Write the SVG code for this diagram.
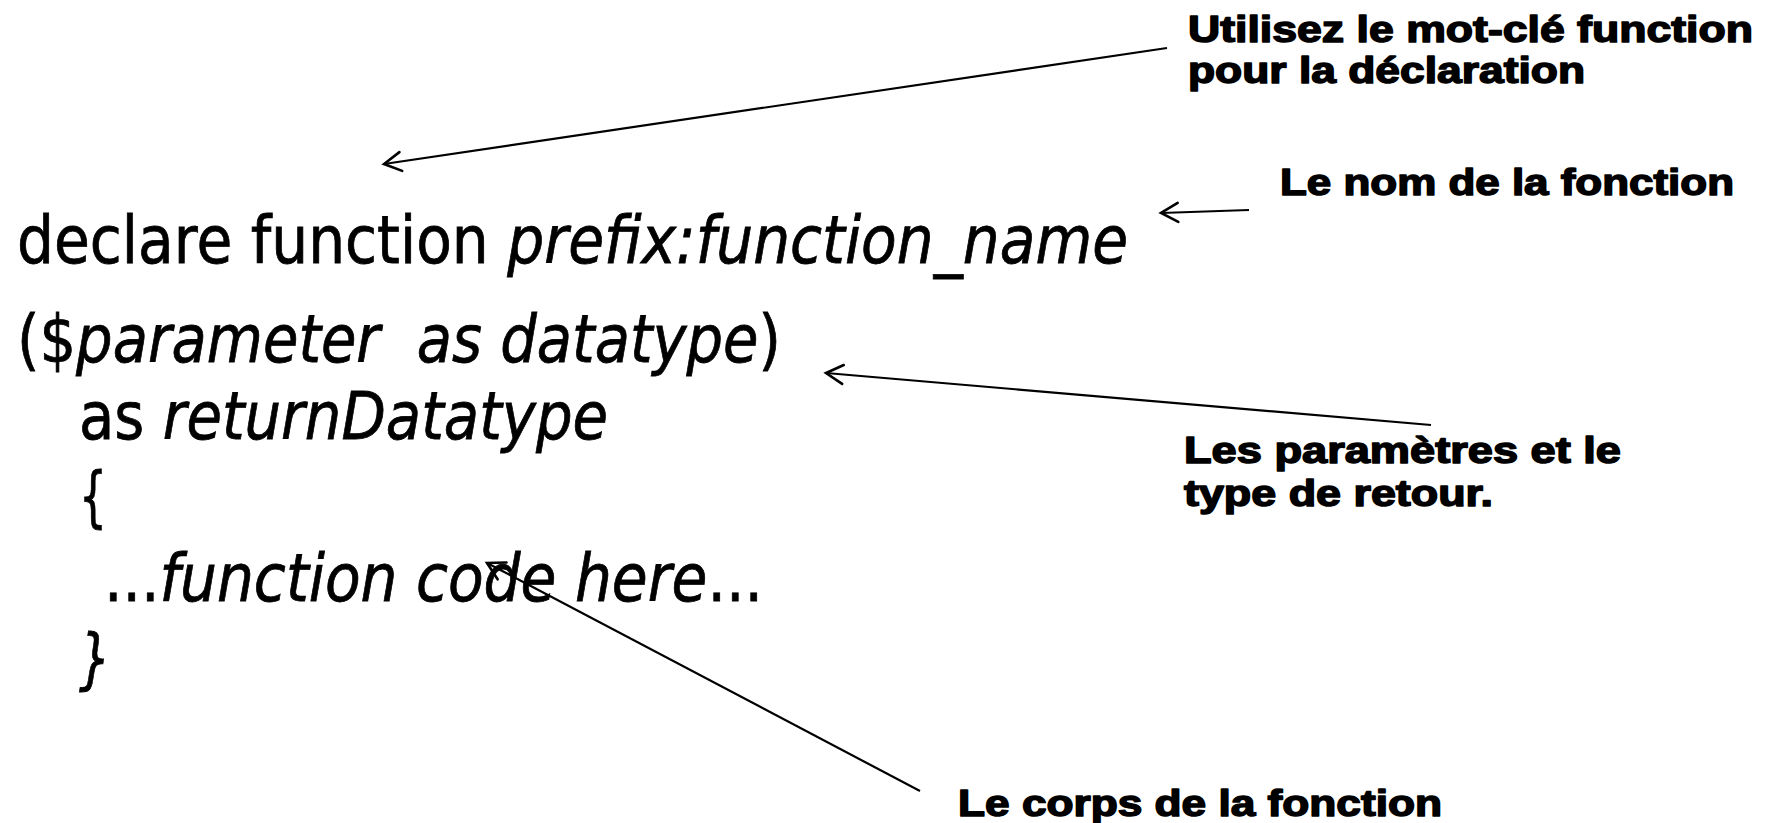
<svg xmlns="http://www.w3.org/2000/svg" width="1771" height="823" viewBox="0 0 1771 823">
  <style>
    .code { font-family: "DejaVu Sans", "Liberation Sans", sans-serif; font-size: 66px; fill: #000; stroke: #000; stroke-width: 0.8px; }
    .it { font-style: italic; }
    .lbl { font-family: "Liberation Sans", Arial, sans-serif; font-weight: bold; font-size: 36px; fill: #000; stroke: #000; stroke-width: 1.5px; stroke-linejoin: round; }
    .conn { stroke: #000; stroke-width: 2.2; fill: none; }
  </style>
  <defs>
    <marker id="open" markerUnits="userSpaceOnUse" markerWidth="40" markerHeight="40" viewBox="-20 -20 40 40" refX="0" refY="0" orient="auto">
      <path d="M -17 -9.5 L 0 0 L -17 9.5" fill="none" stroke="#000" stroke-width="2.6" stroke-linecap="round" stroke-linejoin="miter"/>
    </marker>
  </defs>
  <rect width="1771" height="823" fill="#fff"/>

  <g id="code">
    <text class="code" x="17" y="263" textLength="1111" lengthAdjust="spacingAndGlyphs">declare function <tspan class="it">prefix:function_name</tspan></text>
    <text class="code" x="17" y="362" textLength="764" lengthAdjust="spacingAndGlyphs" xml:space="preserve">($<tspan class="it">parameter  as datatype</tspan>)</text>
    <text class="code" x="79" y="439" textLength="529" lengthAdjust="spacingAndGlyphs">as <tspan class="it">returnDatatype</tspan></text>
    <text class="code" x="79" y="519" textLength="28" lengthAdjust="spacingAndGlyphs">{</text>
    <text class="code" x="104" y="601" textLength="659" lengthAdjust="spacingAndGlyphs">...<tspan class="it">function code here</tspan>...</text>
    <text class="code it" x="79" y="681" textLength="32" lengthAdjust="spacingAndGlyphs">}</text>
  </g>

  <g id="label-keyword">
    <text class="lbl" x="1188" y="42" textLength="565" lengthAdjust="spacingAndGlyphs">Utilisez le mot-clé function</text>
    <text class="lbl" x="1188" y="83" textLength="397" lengthAdjust="spacingAndGlyphs">pour la déclaration</text>
  </g>
  <g id="label-name">
    <text class="lbl" x="1280" y="195" textLength="454" lengthAdjust="spacingAndGlyphs">Le nom de la fonction</text>
  </g>
  <g id="label-params">
    <text class="lbl" x="1184" y="463" textLength="437" lengthAdjust="spacingAndGlyphs">Les paramètres et le</text>
    <text class="lbl" x="1184" y="506" textLength="309" lengthAdjust="spacingAndGlyphs">type de retour.</text>
  </g>
  <g id="label-body">
    <text class="lbl" x="958" y="816" textLength="484" lengthAdjust="spacingAndGlyphs">Le corps de la fonction</text>
  </g>

  <g id="connectors">
    <line class="conn" x1="1167" y1="48" x2="384" y2="164" marker-end="url(#open)"/>
    <line class="conn" x1="1249" y1="210" x2="1161" y2="213" marker-end="url(#open)"/>
    <line class="conn" x1="1431" y1="425" x2="826" y2="373" marker-end="url(#open)"/>
    <line class="conn" x1="920" y1="791" x2="487" y2="563" marker-end="url(#open)"/>
  </g>
</svg>
